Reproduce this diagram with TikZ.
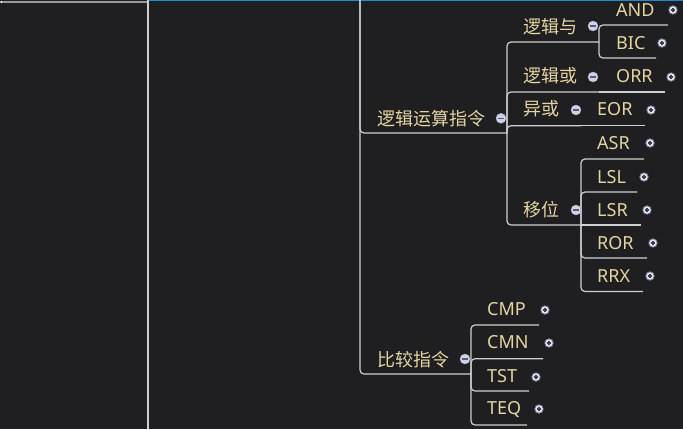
\documentclass[tikz,border=0pt]{standalone}
\usepackage{fontspec}
\setmainfont{Noto Sans CJK SC}
\newfontfamily\latinfont{Noto Sans}
\definecolor{bg}{HTML}{1F1F21}
\definecolor{txt}{HTML}{E4D5A2}
\definecolor{lnc}{HTML}{CFCFCF}
\definecolor{topblue}{HTML}{1C8CD6}
\definecolor{btn}{HTML}{CDD1EA}
\definecolor{pbtn}{HTML}{E4E6EE}
\definecolor{btnd}{HTML}{3A3F55}
\definecolor{bar}{HTML}{9A9A9A}
\tikzset{
  topic/.style={anchor=base west, inner sep=0pt, text=txt, font=\fontsize{18}{18}\selectfont},
  cmd/.style={topic, font=\fontsize{18}{18}\selectfont\latinfont},
  conn/.style={draw=lnc, line width=1.2pt, rounded corners=4pt},
  btnbase/.style={circle, fill=btn, draw=btnd!40, line width=0.4pt, minimum size=10pt, inner sep=0pt},
  minusbtn/.style={btnbase, path picture={\draw[btnd!85, line width=1.3pt]
      ([xshift=-2.6pt]path picture bounding box.center) -- ([xshift=2.6pt]path picture bounding box.center);}},
  plusbtn/.style={btnbase, fill=pbtn, draw=btnd!70, line width=0.8pt, minimum size=8.5pt, path picture={\draw[btnd, line width=1.1pt]
      ([xshift=-2.3pt]path picture bounding box.center) -- ([xshift=2.3pt]path picture bounding box.center)
      ([yshift=-2.3pt]path picture bounding box.center) -- ([yshift=2.3pt]path picture bounding box.center);}},
}
\begin{document}
\begin{tikzpicture}[x=1pt,y=-1pt]
\fill[bg] (0,0) rectangle (683,429);
\useasboundingbox (0,0) rectangle (683,429);
% left frame parts
\fill[bar] (0,1.2) rectangle (147,3.4);
\fill[white] (0.5,0.5) rectangle (1.8,3.4);
\fill[topblue] (148,0) rectangle (683,1.4);
\fill[lnc] (147,0) rectangle (149.2,429);

% junction coordinates
\coordinate (jTop) at (360,-20);
\coordinate (jLogic) at (507,133);
\coordinate (jAnd) at (599,42);
\coordinate (jOr) at (599,92);
\coordinate (jXor) at (581,125.7);
\coordinate (jShift) at (581,225);
\coordinate (jCmp) at (471,374);
% underline ends
\coordinate (eAND) at (668,25);
\coordinate (eBIC) at (656,58);
\coordinate (eORR) at (665,92);
\coordinate (eEOR) at (645,125.7);
\coordinate (eASR) at (644,159);
\coordinate (eLSL) at (637,192);
\coordinate (eLSR) at (641,225);
\coordinate (eROR) at (647,258);
\coordinate (eRRX) at (643,291.5);
\coordinate (eCMP) at (539,325);
\coordinate (eCMN) at (543,358.7);
\coordinate (eTST) at (529,391);
\coordinate (eTEQ) at (527,425);

% connectors
\draw[conn] (jTop) |- (jLogic);
\draw[conn] (jTop) |- (jCmp);
\draw[conn] (jLogic) |- (jAnd);
\draw[conn] (jLogic) |- (jOr);
\draw[conn] (jLogic) |- (jXor);
\draw[conn] (jLogic) |- (jShift);
\draw[conn] (jAnd) |- (eAND);
\draw[conn] (jAnd) |- (eBIC);
\draw[conn] (jOr) -- (eORR);
\draw[conn] (jXor) -- (eEOR);
\draw[conn] (jShift) |- (eASR);
\draw[conn] (jShift) |- (eLSL);
\draw[conn] (jShift) -- (eLSR);
\draw[conn] (jShift) |- (eROR);
\draw[conn] (jShift) |- (eRRX);
\draw[conn] (jCmp) |- (eCMP);
\draw[conn] (jCmp) |- (eCMN);
\draw[conn] (jCmp) |- (eTST);
\draw[conn] (jCmp) |- (eTEQ);

% topics
\node[topic] (tLogic) at (377,125) {逻辑运算指令};
\node[topic] (tAndZ) at (523,33.5) {逻辑与};
\node[topic] (tOrZ) at (523,82.5) {逻辑或};
\node[topic] (tXorZ) at (523,115.5) {异或};
\node[topic] (tShiftZ) at (523,216.5) {移位};
\node[topic] (tCmpZ) at (377,366.5) {比较指令};
\node[cmd] (tAND) at (616,16.5) {AND};
\node[cmd] (tBIC) at (616,49.5) {BIC};
\node[cmd] (tORR) at (616,82.5) {ORR};
\node[cmd] (tEOR) at (597,115.5) {EOR};
\node[cmd] (tASR) at (597,149.5) {ASR};
\node[cmd] (tLSL) at (597,183.5) {LSL};
\node[cmd] (tLSR) at (597,216.5) {LSR};
\node[cmd] (tROR) at (597,249.5) {ROR};
\node[cmd] (tRRX) at (597,282.5) {RRX};
\node[cmd] (tCMP) at (487,315.5) {CMP};
\node[cmd] (tCMN) at (487,348.5) {CMN};
\node[cmd] (tTST) at (487,382.5) {TST};
\node[cmd] (tTEQ) at (487,414.5) {TEQ};

% collapse / expand buttons
\node[minusbtn] (bLogic) at (501,118.3) {};
\node[minusbtn] (bAndZ) at (593,26) {};
\node[minusbtn] (bOrZ) at (593,77) {};
\node[minusbtn] (bXorZ) at (576,110) {};
\node[minusbtn] (bShiftZ) at (576,210) {};
\node[minusbtn] (bCmpZ) at (465,359) {};
\node[plusbtn] (pAND) at (673,10) {};
\node[plusbtn] (pBIC) at (662,43) {};
\node[plusbtn] (pORR) at (671,77) {};
\node[plusbtn] (pEOR) at (651,110) {};
\node[plusbtn] (pASR) at (650,143) {};
\node[plusbtn] (pLSL) at (644,177) {};
\node[plusbtn] (pLSR) at (647,210) {};
\node[plusbtn] (pROR) at (653,243) {};
\node[plusbtn] (pRRX) at (650,276) {};
\node[plusbtn] (pCMP) at (545,310) {};
\node[plusbtn] (pCMN) at (549,343) {};
\node[plusbtn] (pTST) at (536,377) {};
\node[plusbtn] (pTEQ) at (539,409) {};
\end{tikzpicture}
\end{document}
